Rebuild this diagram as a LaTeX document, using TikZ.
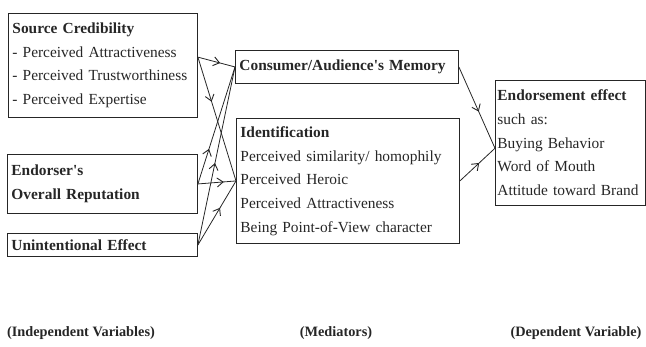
\documentclass[tikz,border=0pt]{standalone}
\usepackage{fontspec}
\setmainfont{Liberation Serif}
\usetikzlibrary{arrows.meta,decorations.markings}
\colorlet{ink}{black!85}
\tikzset{
  varbox/.style={draw=ink, line width=0.9pt, anchor=north west, inner xsep=4pt,
    inner ysep=0pt, align=left, text=ink, font=\fontsize{15.4}{23.7}\selectfont},
  link/.style={draw=ink, line width=0.8pt},
  midarrow/.style={postaction={decorate, decoration={markings,
    mark=at position #1 with {\arrow[ink]{Straight Barb[length=6pt,width=9pt,line width=0.9pt]}}}}},
  grouplabel/.style={text=ink, font=\fontsize{14.3}{18}\selectfont\bfseries}
}
\newcommand{\varBox}[5]{
    \node[varbox, text width=#3, minimum height=#4] (#1) at #2 {#5};
}
\newcommand{\linkVar}[3][0.5]{
    \draw[link, midarrow=#1] (#2) -- (#3);
}

\begin{document}
\begin{tikzpicture}[x=1pt, y=-1pt]
    \useasboundingbox (0,0) rectangle (646,347);

    \varBox{src}{(8,13)}{181pt}{104pt}{\textbf{Source Credibility}\\
        - Perceived Attractiveness\\- Perceived Trustworthiness\\- Perceived Expertise}
    \varBox{endr}{(7,154)}{182pt}{59pt}{\textbf{Endorser\textquotesingle s}\\
        \textbf{Overall Reputation}}
    \varBox{unint}{(7,233)}{182pt}{23pt}{\textbf{Unintentional Effect}}
    \varBox{mem}{(235,50)}{215pt}{33pt}{\textbf{Consumer/Audience\textquotesingle s Memory}}
    \varBox{ident}{(236,118)}{215pt}{125pt}{\textbf{Identification}\\
        Perceived similarity/ homophily\\Perceived Heroic\\
        Perceived Attractiveness\\Being Point-of-View character}
    \node[varbox, inner xsep=2pt, text width=146pt, minimum height=125pt] (effect)
        at (495,80) {\textbf{Endorsement effect}\\
        such as:\\Buying Behavior\\Word of Mouth\\Attitude toward Brand};

    \linkVar[0.6]{src.5}{mem.west}
    \linkVar[0.36]{src.5}{ident.west}
    \linkVar[0.68]{endr.east}{ident.west}
    \linkVar[0.3]{endr.east}{mem.west}
    \linkVar[0.46]{unint.east}{mem.west}
    \linkVar[0.58]{unint.east}{ident.west}
    \linkVar[0.55]{mem.east}{effect.184}
    \linkVar[0.55]{ident.east}{effect.184}

    \node[grouplabel] (lblIndep) at (81,333) {(Independent Variables)};
    \node[grouplabel] (lblMed) at (336,333) {(Mediators)};
    \node[grouplabel] (lblDep) at (576,333) {(Dependent Variable)};
\end{tikzpicture}
\end{document}
